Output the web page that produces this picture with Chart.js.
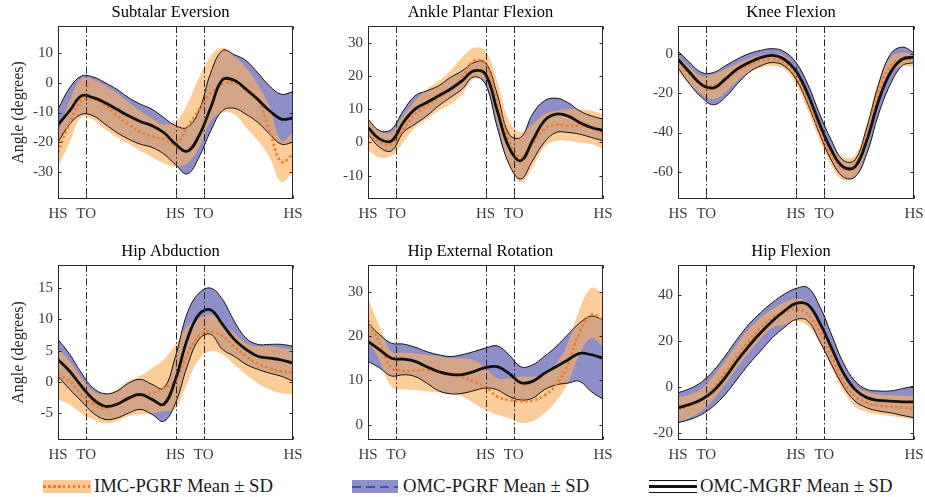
<!DOCTYPE html>
<html>
<head>
<meta charset="utf-8">
<script src="https://cdn.jsdelivr.net/npm/chart.js@4.4.1/dist/chart.umd.min.js"></script>
<style>
  html, body { margin: 0; padding: 0; background: #fff; }
  #fig { position: relative; width: 925px; height: 497px; overflow: hidden; font-family: "Liberation Serif", "Times New Roman", serif; }
  .panel { position: absolute; }
  .sw { position: absolute; top: 480px; height: 13px; }
  .lg-text { position: absolute; top: 476px; height: 20px; line-height: 20px; font-size: 18.7px; color: #1a1a1a; white-space: nowrap; }
  .bar { position: absolute; left: 0; right: 0; }
</style>
</head>
<body>
<div id="fig">
  <div class="sw" style="left:43px;width:48px;background:rgb(252,200,148);">
    <div class="bar" style="top:5px;height:2.5px;background:repeating-linear-gradient(to right,#EF7B2D 0 2.5px,transparent 2.5px 5px);"></div>
  </div>
  <div class="lg-text" id="lg0" style="left:94px;"></div>

  <div class="sw" style="left:352px;width:46px;background:rgb(142,142,200);">
    <div class="bar" style="top:5.5px;height:2px;background:repeating-linear-gradient(to right,#3F51B5 0 9px,transparent 9px 14px);"></div>
  </div>
  <div class="lg-text" id="lg1" style="left:403px;"></div>

  <div class="sw" style="left:649px;width:48px;">
    <div class="bar" style="top:0;height:1px;background:#111;"></div>
    <div class="bar" style="top:5px;height:3px;background:#111;"></div>
    <div class="bar" style="top:11.5px;height:1px;background:#111;"></div>
  </div>
  <div class="lg-text" id="lg2" style="left:700px;"></div>
</div>
<script>
// gait cycle sample points (% of stride)
const gaitPct = [0, 5, 10, 15, 20, 25, 30, 35, 40, 45, 50, 55, 60, 65, 70, 75, 80, 85, 90, 95, 100];
const eventPct = [12, 50, 62];
const xTickPct = [0, 12, 50, 62, 100];
const xTickLabels = ["HS", "TO", "HS", "TO", "HS"];

const panelTitles = [
  "Subtalar Eversion",
  "Ankle Plantar Flexion",
  "Knee Flexion",
  "Hip Abduction",
  "Hip External Rotation",
  "Hip Flexion",
];
const yLimits = [[-39, 19], [-17, 35], [-74, 14.5], [-9.3, 18.7], [-3.4, 36], [-23, 53]];
const yTickValues = [
  [-30, -20, -10, 0, 10],
  [-10, 0, 10, 20, 30],
  [-60, -40, -20, 0],
  [-5, 0, 5, 10, 15],
  [0, 10, 20, 30],
  [-20, 0, 20, 40],
];
const legendLabels = ["IMC-PGRF Mean ± SD", "OMC-PGRF Mean ± SD", "OMC-MGRF Mean ± SD"];
const yAxisLabel = "Angle (degrees)";

// Subtalar eversion
const subOmcMean = [-14.1, -9.4, -4.4, -5.0, -6.7, -8.9, -11.1, -13.0, -14.4, -16.7, -20.6, -23.0, -17.8, -8.3, 1.0, 0.8, -2.2, -5.6, -9.4, -12.2, -11.9];
const subOmcUp = [-8.9, -1.7, 2.2, 1.9, 0.0, -2.2, -5.0, -7.2, -8.9, -11.7, -14.4, -15.0, -9.4, 3.3, 10.8, 9.4, 7.4, 3.3, -1.1, -3.9, -3.0];
const subOmcLo = [-20.0, -13.9, -10.6, -11.1, -13.9, -16.7, -18.9, -20.6, -21.7, -23.9, -27.5, -30.6, -25.0, -16.1, -9.4, -8.6, -10.6, -13.3, -17.2, -20.6, -20.0];
const subImcMean = [-23.3, -13.5, -6.0, -5.5, -7.5, -11.0, -14.0, -16.5, -18.0, -19.0, -20.5, -15.0, -9.0, -3.5, -0.5, 0.0, -2.0, -5.5, -16.0, -26.5, -24.0];
const subImcUp = [-17.0, -6.0, 1.4, 1.0, -1.0, -3.5, -6.5, -9.5, -12.0, -14.0, -13.0, -7.2, 1.7, 8.9, 11.7, 8.9, 5.0, -0.6, -8.0, -19.4, -16.7];
const subImcLo = [-28.3, -20.0, -11.5, -12.5, -15.5, -18.3, -20.5, -22.8, -25.0, -27.0, -28.0, -27.0, -21.7, -12.8, -10.0, -10.6, -15.0, -19.4, -25.0, -33.3, -30.0];

// Ankle plantar flexion
const ankOmcMean = [4.5, 1.0, 0.5, 6.0, 10.0, 12.0, 14.0, 16.0, 18.5, 21.5, 20.5, 9.5, -1.5, -5.5, 0.5, 6.5, 8.5, 8.0, 6.0, 4.5, 3.7];
const ankOmcUp = [7.0, 3.5, 4.0, 9.5, 14.0, 15.5, 17.0, 19.5, 21.5, 24.0, 24.0, 14.5, 2.5, 1.5, 8.5, 12.5, 13.3, 12.0, 9.5, 8.0, 7.0];
const ankOmcLo = [2.5, -1.5, -2.5, 3.0, 5.5, 8.0, 11.0, 13.5, 16.0, 19.7, 17.5, 4.5, -6.5, -11.0, -5.5, 0.0, 3.0, 3.0, 2.5, 1.5, 0.5];
const ankImcMean = [2.5, 0.0, -0.5, 4.0, 8.5, 11.0, 13.5, 16.0, 19.5, 24.5, 23.5, 12.5, 0.5, -4.5, -0.5, 4.0, 5.3, 5.0, 5.0, 4.5, 3.0];
const ankImcUp = [7.0, 3.5, 3.0, 8.0, 12.5, 16.0, 18.5, 21.5, 25.5, 28.5, 27.5, 18.5, 6.5, 3.0, 5.5, 8.5, 9.5, 10.0, 10.0, 9.5, 8.5];
const ankImcLo = [-2.5, -4.5, -4.0, 0.0, 4.5, 7.0, 9.5, 11.5, 14.5, 19.0, 18.5, 6.5, -6.5, -12.0, -7.5, -1.5, 0.5, 0.5, 0.0, -0.5, -2.0];

// Knee flexion
const kneOmcMean = [-2.5, -9.3, -15.5, -17.2, -12.7, -7.6, -4.2, -1.7, -0.5, -2.5, -8.5, -20.3, -35.6, -49.0, -57.6, -57.6, -44.0, -23.7, -9.3, -2.5, -1.4];
const kneOmcUp = [1.7, -4.2, -9.3, -9.3, -5.9, -2.5, 0.3, 2.0, 2.9, 1.4, -4.2, -15.3, -30.5, -44.0, -54.2, -54.0, -37.3, -15.3, 0.0, 3.7, 0.8];
const kneOmcLo = [-6.8, -15.3, -22.0, -25.8, -22.0, -15.3, -9.3, -5.9, -4.2, -5.9, -12.7, -25.4, -40.7, -54.2, -62.7, -62.7, -50.8, -30.5, -15.3, -5.9, -4.2];
const kneImcMean = [-4.2, -10.5, -15.3, -16.0, -13.2, -8.8, -5.4, -3.4, -2.5, -4.2, -11.0, -23.7, -39.0, -51.7, -58.5, -56.8, -40.7, -19.5, -5.9, -2.5, -3.0];
const kneImcUp = [-0.8, -6.8, -11.0, -10.2, -7.6, -4.7, -2.2, -0.5, 0.3, -0.8, -7.6, -19.5, -34.7, -47.5, -52.5, -51.7, -35.6, -13.6, -1.7, 0.8, 0.0];
const kneImcLo = [-9.3, -15.3, -20.3, -22.9, -19.5, -13.6, -9.3, -6.8, -5.9, -7.6, -15.3, -28.8, -44.0, -56.8, -64.4, -62.7, -47.5, -25.4, -10.2, -5.9, -6.8];

// Hip abduction
const abdOmcMean = [3.6, 1.7, -0.7, -2.8, -3.9, -3.6, -2.6, -2.0, -2.8, -3.6, 0.4, 6.8, 10.8, 11.5, 9.2, 6.8, 5.2, 4.1, 3.8, 3.5, 3.0];
const abdOmcUp = [6.8, 4.4, 1.4, -1.0, -1.9, -1.5, -0.2, 0.4, -0.4, -1.0, 4.1, 11.0, 14.2, 15.0, 13.2, 9.7, 7.0, 6.0, 6.0, 6.0, 5.7];
const abdOmcLo = [0.9, -1.2, -3.1, -5.0, -6.0, -5.8, -5.0, -4.4, -5.2, -6.3, -3.4, 2.5, 6.8, 7.6, 5.2, 4.1, 2.8, 2.0, 1.4, 0.9, 0.1];
const abdImcMean = [1.2, 0.1, -2.0, -3.6, -4.2, -3.6, -2.8, -2.2, -1.8, -1.0, 0.2, 4.4, 7.3, 8.1, 7.3, 5.7, 4.1, 2.9, 2.2, 1.7, 1.5];
const abdImcUp = [5.4, 3.3, 0.6, -1.5, -2.0, -1.2, 0.1, 1.0, 2.2, 3.6, 6.0, 8.9, 10.2, 10.8, 9.4, 7.8, 6.2, 5.7, 5.7, 5.4, 5.2];
const abdImcLo = [-2.8, -3.6, -5.0, -6.0, -6.6, -6.3, -5.5, -5.2, -5.0, -4.7, -4.2, -0.2, 3.6, 4.9, 4.4, 2.8, 1.2, -0.2, -1.2, -1.8, -2.0];

// Hip external rotation
const rotOmcMean = [18.8, 16.9, 15.0, 14.8, 14.3, 13.1, 12.0, 11.4, 11.3, 12.0, 12.9, 13.1, 11.6, 9.5, 9.8, 11.6, 13.1, 14.6, 16.1, 15.8, 15.0];
const rotOmcUp = [22.9, 20.3, 18.4, 18.2, 17.5, 16.5, 15.8, 15.4, 15.8, 16.5, 17.3, 17.8, 15.8, 13.1, 13.5, 15.4, 17.6, 20.3, 22.9, 24.5, 23.6];
const rotOmcLo = [14.3, 12.8, 11.0, 11.3, 10.9, 9.4, 7.7, 7.0, 7.1, 7.7, 8.3, 7.9, 6.4, 5.6, 6.0, 7.9, 9.0, 9.4, 9.8, 7.5, 5.8];
const rotImcMean = [23.6, 18.4, 12.8, 12.2, 12.2, 12.4, 12.0, 11.6, 10.9, 9.8, 8.6, 6.4, 5.6, 5.3, 5.5, 6.6, 9.0, 13.5, 20.8, 24.8, 23.6];
const rotImcUp = [28.5, 22.1, 16.5, 16.3, 16.1, 15.8, 15.4, 15.0, 15.0, 14.6, 12.8, 10.5, 10.5, 10.9, 10.9, 11.6, 13.9, 18.4, 25.9, 30.8, 29.6];
const rotImcLo = [19.1, 14.3, 8.6, 8.0, 7.9, 7.5, 7.3, 7.1, 6.4, 4.9, 3.4, 2.3, 1.5, 0.5, 0.8, 2.6, 5.3, 9.4, 15.8, 19.5, 17.6];

// Hip flexion
const flxOmcMean = [-9.0, -7.5, -5.4, -1.7, 4.1, 11.3, 17.8, 23.6, 28.7, 33.0, 36.3, 35.8, 28.0, 17.1, 6.2, -1.0, -4.6, -5.8, -6.1, -6.4, -6.4];
const flxOmcUp = [-2.5, -0.7, 2.2, 7.0, 13.5, 20.7, 27.2, 32.3, 36.7, 40.3, 42.8, 43.2, 35.2, 22.9, 10.6, 2.6, -1.0, -1.7, -1.7, -0.7, 0.4];
const flxOmcLo = [-15.5, -14.1, -11.9, -8.3, -3.2, 3.3, 9.9, 15.7, 21.4, 25.8, 29.4, 28.7, 20.0, 9.9, 0.4, -6.1, -9.0, -10.4, -11.2, -12.3, -13.3];
const flxImcMean = [-9.7, -8.0, -5.4, -0.3, 6.2, 13.5, 20.0, 25.8, 30.1, 32.3, 33.8, 31.6, 24.3, 13.5, 2.6, -3.9, -6.8, -8.0, -8.6, -9.0, -9.3];
const flxImcUp = [-4.6, -3.2, -0.7, 4.8, 11.3, 18.6, 25.1, 30.1, 33.8, 36.7, 38.4, 36.7, 28.7, 17.8, 7.0, 0.4, -2.2, -3.2, -3.6, -3.9, -3.9];
const flxImcLo = [-15.2, -13.3, -10.4, -5.4, 1.2, 8.4, 14.9, 21.0, 25.8, 27.2, 28.7, 26.5, 19.3, 8.4, -1.7, -8.3, -10.9, -11.9, -12.6, -13.3, -14.1];

const panelSeries = [
  { omcMean: subOmcMean, omcUp: subOmcUp, omcLo: subOmcLo, imcMean: subImcMean, imcUp: subImcUp, imcLo: subImcLo },
  { omcMean: ankOmcMean, omcUp: ankOmcUp, omcLo: ankOmcLo, imcMean: ankImcMean, imcUp: ankImcUp, imcLo: ankImcLo },
  { omcMean: kneOmcMean, omcUp: kneOmcUp, omcLo: kneOmcLo, imcMean: kneImcMean, imcUp: kneImcUp, imcLo: kneImcLo },
  { omcMean: abdOmcMean, omcUp: abdOmcUp, omcLo: abdOmcLo, imcMean: abdImcMean, imcUp: abdImcUp, imcLo: abdImcLo },
  { omcMean: rotOmcMean, omcUp: rotOmcUp, omcLo: rotOmcLo, imcMean: rotImcMean, imcUp: rotImcUp, imcLo: rotImcLo },
  { omcMean: flxOmcMean, omcUp: flxOmcUp, omcLo: flxOmcLo, imcMean: flxImcMean, imcUp: flxImcUp, imcLo: flxImcLo },
];

// canvas boxes on the page (wide enough for the last "HS" label)
const panelLayout = [
  { left: 0, top: 0, width: 312, height: 232, padRight: 19 },
  { left: 310, top: 0, width: 312, height: 232, padRight: 19 },
  { left: 620, top: 0, width: 305, height: 232, padRight: 11 },
  { left: 0, top: 239, width: 312, height: 234, padRight: 19 },
  { left: 310, top: 239, width: 312, height: 234, padRight: 19 },
  { left: 620, top: 239, width: 305, height: 234, padRight: 11 },
];

const serif = "'Liberation Serif', 'Times New Roman', serif";
const axisColor = "#262626";
const tickColor = "#3a3a3a";
const bandBlue = "rgb(142,142,200)";
const bandOrange = "rgba(250,176,98,0.65)";
const orangeLine = "#EF7B2D";
const blueLine = "#3F51B5";
const blackLine = "#111111";

legendLabels.forEach((t, i) => { document.getElementById("lg" + i).textContent = t; });

// box, inward ticks, dash-dot gait event lines and panel title (MATLAB look)
const framePlugin = {
  id: "frame",
  afterDatasetsDraw(chart, args, opts) {
    const { ctx, chartArea: a, scales } = chart;
    const x = scales.x, y = scales.y;
    ctx.save();
    ctx.strokeStyle = axisColor;
    ctx.lineWidth = 1;
    ctx.setLineDash([7, 2.5, 1.5, 2.5]);
    eventPct.forEach((v) => {
      const px = Math.round(x.getPixelForValue(v)) + 0.5;
      ctx.beginPath();
      ctx.moveTo(px, a.top);
      ctx.lineTo(px, a.bottom);
      ctx.stroke();
    });
    ctx.setLineDash([]);
    const l = Math.round(a.left) + 0.5, r = Math.round(a.right) - 0.5;
    const t = Math.round(a.top) + 0.5, b = Math.round(a.bottom) - 0.5;
    ctx.strokeRect(l, t, r - l, b - t);
    ctx.beginPath();
    y.ticks.forEach((tk) => {
      const py = Math.round(y.getPixelForValue(tk.value)) + 0.5;
      ctx.moveTo(l, py); ctx.lineTo(l + 3, py);
      ctx.moveTo(r, py); ctx.lineTo(r - 3, py);
    });
    x.ticks.forEach((tk) => {
      const px = Math.round(x.getPixelForValue(tk.value)) + 0.5;
      ctx.moveTo(px, b); ctx.lineTo(px, b - 3);
      ctx.moveTo(px, t); ctx.lineTo(px, t + 3);
    });
    ctx.stroke();

    // title
    ctx.fillStyle = "#000";
    ctx.font = "16.5px " + serif;
    ctx.textAlign = "center";
    ctx.textBaseline = "middle";
    ctx.fillText(opts.title, (a.left + a.right) / 2 - 5, a.top - 13.2);
    ctx.restore();
  },
};

const fig = document.getElementById("fig");

function makePanel(i) {
  const box = panelLayout[i];
  const s = panelSeries[i];
  const canvas = document.createElement("canvas");
  canvas.className = "panel";
  canvas.width = box.width;
  canvas.height = box.height;
  canvas.style.left = box.left + "px";
  canvas.style.top = box.top + "px";
  fig.appendChild(canvas);

  const pts = (ys) => ys.map((v, k) => ({ x: gaitPct[k], y: v }));
  const showYTitle = i % 3 === 0;

  new Chart(canvas, {
    type: "line",
    data: {
      datasets: [
        { data: pts(s.omcUp), borderColor: blackLine, borderWidth: 1, fill: "+1", backgroundColor: bandBlue, order: 5 },
        { data: pts(s.omcLo), borderColor: blackLine, borderWidth: 1, fill: false, order: 5 },
        { data: pts(s.imcUp), borderColor: "rgba(0,0,0,0)", borderWidth: 0, fill: "+1", backgroundColor: bandOrange, order: 4 },
        { data: pts(s.imcLo), borderColor: "rgba(0,0,0,0)", borderWidth: 0, fill: false, order: 4 },
        { data: pts(s.imcMean), borderColor: orangeLine, borderWidth: 2.5, borderDash: [2.5, 2.5], fill: false, order: 2 },
        { data: pts(s.omcMean), borderColor: blueLine, borderWidth: 1.5, borderDash: [6, 4], fill: false, order: 1 },
        { data: pts(s.omcMean), borderColor: blackLine, borderWidth: 2.8, fill: false, order: 0 },
      ],
    },
    options: {
      responsive: false,
      animation: false,
      devicePixelRatio: 1,
      layout: { padding: { left: 0, right: box.padRight, top: 26, bottom: 0 } },
      elements: { point: { radius: 0 }, line: { tension: 0.4 } },
      plugins: {
        legend: { display: false },
        tooltip: { enabled: false },
        title: { display: false },
        filler: { drawTime: "beforeDatasetsDraw" },
        frame: { title: panelTitles[i] },
      },
      scales: {
        x: {
          type: "linear",
          min: 0,
          max: 100,
          grid: { display: false, drawTicks: false },
          border: { display: false },
          afterBuildTicks: (sc) => { sc.ticks = xTickPct.map((v) => ({ value: v })); },
          afterFit: (sc) => { sc.height = 33; sc.paddingLeft = 0; sc.paddingRight = 0; },
          ticks: {
            autoSkip: false,
            maxRotation: 0,
            padding: 6,
            color: tickColor,
            font: { family: serif, size: 15 },
            callback: (v, k) => xTickLabels[k],
          },
        },
        y: {
          min: yLimits[i][0],
          max: yLimits[i][1],
          grid: { display: false, drawTicks: false },
          border: { display: false },
          afterBuildTicks: (sc) => { sc.ticks = yTickValues[i].map((v) => ({ value: v })); },
          afterFit: (sc) => { sc.width = 58; sc.paddingTop = 0; sc.paddingBottom = 0; },
          ticks: { padding: 5, color: tickColor, font: { family: serif, size: 15 } },
          title: {
            display: showYTitle,
            text: yAxisLabel,
            color: axisColor,
            font: { family: serif, size: 16 },
            padding: { top: 9.5, bottom: 0 },
          },
        },
      },
    },
    plugins: [framePlugin],
  });
}

panelTitles.forEach((_, i) => makePanel(i));
</script>
</body>
</html>
